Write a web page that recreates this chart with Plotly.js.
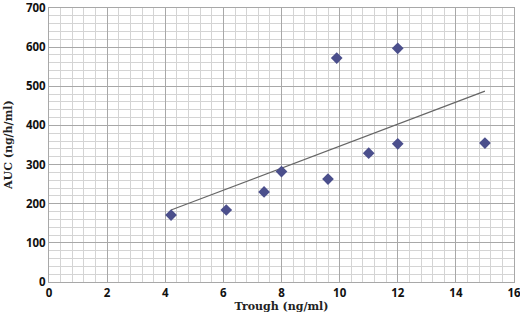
<!DOCTYPE html>
<html><head><meta charset="utf-8">
<script src="https://cdn.plot.ly/plotly-3.0.1.min.js"></script>
<style>body{margin:0;background:#fff}#c{width:520px;height:319px}</style>
</head><body><div id="c"></div>
<script>
const trough = [4.2, 6.1, 7.4, 8.0, 9.6, 9.9, 12.0, 12.0, 15.0, 11.0];
const auc    = [171, 184, 230, 282, 263, 572, 597, 353, 355, 329];
const xTickVals = [0, 2, 4, 6, 8, 10, 12, 14, 16];
const yTickVals = [0, 100, 200, 300, 400, 500, 600, 700];

// least-squares trend line over the data range
const n = trough.length;
const mx = trough.reduce((a,b)=>a+b,0)/n;
const my = auc.reduce((a,b)=>a+b,0)/n;
let sxy=0, sxx=0;
for (let i=0;i<n;i++){ sxy+=(trough[i]-mx)*(auc[i]-my); sxx+=(trough[i]-mx)**2; }
const slope = sxy/sxx, icpt = my - slope*mx;
const xmin = Math.min(...trough), xmax = Math.max(...trough);
const trendX = [xmin, xmax];
const trendY = trendX.map(x => icpt + slope*x);

const tickFont = {family: '"Open Sans", "DejaVu Sans", sans-serif', size: 11.5, color: '#111', weight: 'bold'};
const titleFont = {family: '"DejaVu Serif", "Liberation Serif", serif', size: 11, color: '#222', weight: 'bold'};

Plotly.newPlot('c', [
  {x: trendX, y: trendY, mode: 'lines', line: {color: '#666', width: 1.2}, hoverinfo: 'skip'},
  {x: trough, y: auc, mode: 'markers', marker: {symbol: 'diamond', size: 9, color: '#4b4f8c'}}
], {
  width: 520, height: 319,
  margin: {l: 49, r: 6, t: 8, b: 37},
  showlegend: false,
  paper_bgcolor: '#fff', plot_bgcolor: '#fff',
  xaxis: {
    range: [0, 16], tickvals: xTickVals, ticks: '', tickfont: tickFont, ticklabeloverflow: 'allow',
    showgrid: true, gridcolor: '#a8a8a8', gridwidth: 1,
    minor: {dtick: 0.4, tick0: 0, showgrid: true, gridcolor: '#d4d4d4', gridwidth: 1},
    zeroline: false, showline: true, linecolor: '#a8a8a8', mirror: true,
    title: {text: 'Trough (ng/ml)', font: titleFont, standoff: 1}
  },
  yaxis: {
    range: [0, 700], tickvals: yTickVals, ticks: '', tickfont: tickFont, ticklabeloverflow: 'allow',
    showgrid: true, gridcolor: '#a8a8a8', gridwidth: 1,
    minor: {dtick: 20, tick0: 0, showgrid: true, gridcolor: '#d4d4d4', gridwidth: 1},
    zeroline: false, showline: true, linecolor: '#a8a8a8', mirror: true
  },
  annotations: [{
    text: 'AUC (ng/h/ml)', font: titleFont, textangle: -90,
    xref: 'paper', yref: 'paper', x: 0, y: 0.5, xanchor: 'center', yanchor: 'middle',
    xshift: -41, showarrow: false
  }]
}, {displayModeBar: false, staticPlot: true});
</script></body></html>
